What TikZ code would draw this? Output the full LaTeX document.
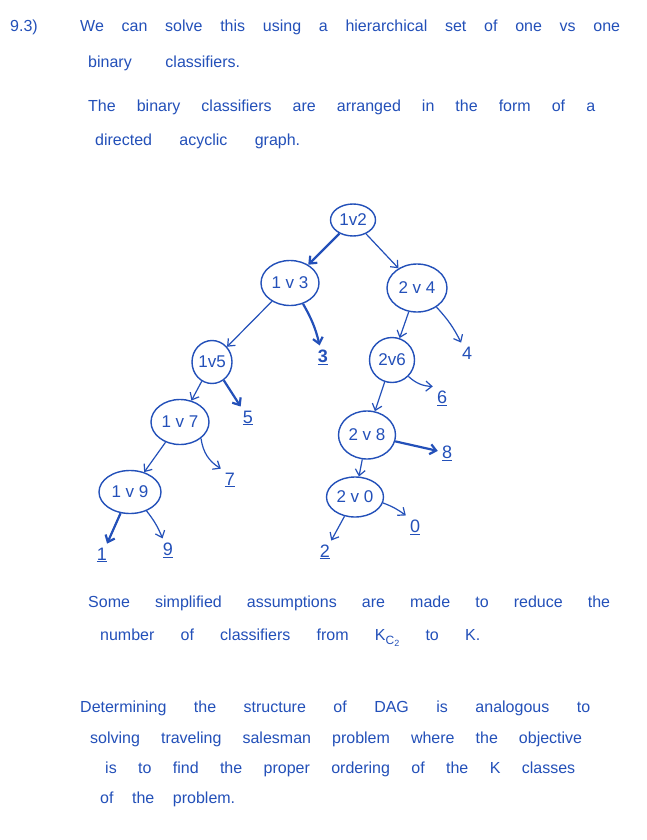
\documentclass[tikz,border=0pt]{standalone}
\usepackage{fontspec}
\setmainfont{Liberation Sans}
\usetikzlibrary{shapes.geometric,arrows.meta}
\definecolor{ink}{RGB}{35,80,185}
\tikzset{
  txt/.style={anchor=base west,inner sep=0pt,text=ink,font=\fontsize{16}{18}\selectfont},
  clf/.style={ellipse,draw=ink,line width=1.4pt,inner sep=0pt,text=ink,font=\fontsize{17}{19}\selectfont},
  leaf/.style={inner sep=4pt,text=ink,font=\fontsize{18}{20}\selectfont},
  edge/.style={draw=ink,line width=1.2pt,-{Straight Barb[length=6pt,width=10pt]}},
  thick edge/.style={edge,line width=2.2pt}
}
\begin{document}
\begin{tikzpicture}[x=1pt,y=-1pt]
\useasboundingbox[fill=white] (0,0) rectangle (646,840);
% header text
\node[txt] (q) at (10,32) {9.3)};
\node[txt] (l1) at (80,32) {\makebox[540pt][s]{We can solve this using a hierarchical set of one vs one}};
\node[txt] (l2) at (88,68) {\makebox[152pt][s]{binary classifiers.}};
\node[txt] (l3) at (88,112) {\makebox[507pt][s]{The binary classifiers are arranged in the form of a}};
\node[txt] (l4) at (95,146) {\makebox[205pt][s]{directed acyclic graph.}};
% classifier nodes
\node[clf,minimum width=45pt,minimum height=32pt] (n12) at (353,220) {1v2};
\node[clf,minimum width=58pt,minimum height=45pt] (n13) at (290,283) {1 v 3};
\node[clf,minimum width=60pt,minimum height=48pt] (n24) at (417,288) {2 v 4};
\node[clf,minimum width=40pt,minimum height=43pt] (n15) at (212,362) {1v5};
\node[clf,minimum width=45pt,minimum height=45pt] (n26) at (392,360) {2v6};
\node[clf,minimum width=58pt,minimum height=45pt] (n17) at (180,422) {1 v 7};
\node[clf,minimum width=57pt,minimum height=48pt] (n28) at (367,435) {2 v 8};
\node[clf,minimum width=62pt,minimum height=43pt] (n19) at (130,492) {1 v 9};
\node[clf,minimum width=57pt,minimum height=40pt] (n20) at (355,497) {2 v 0};
% leaves
\node[leaf] (c3) at (323,357) {\underline{\textbf{3}}};
\node[leaf] (c4) at (467,353) {4};
\node[leaf] (c5) at (248,418) {\underline{5}};
\node[leaf] (c6) at (442,398) {\underline{6}};
\node[leaf] (c8) at (447,453) {\underline{8}};
\node[leaf] (c7) at (230,480) {\underline{7}};
\node[leaf] (c0) at (415,527) {\underline{0}};
\node[leaf] (c1) at (102,555) {\underline{1}};
\node[leaf] (c9) at (168,550) {\underline{9}};
\node[leaf] (c2) at (325,552) {\underline{2}};
% edges
\draw[thick edge] (n12) -- (n13);
\draw[edge] (n12) -- (n24);
\draw[edge] (n13) -- (n15);
\draw[thick edge] (n13) to[bend left=8] (c3);
\draw[edge] (n24) -- (n26);
\draw[edge] (n24) to[bend left=8] (c4);
\draw[edge] (n15) -- (n17);
\draw[thick edge] (n15) -- (c5);
\draw[edge] (n26) -- (n28);
\draw[edge] (n26.south east) to[bend right=20] (c6.north west);
\draw[edge] (n17) -- (n19);
\draw[edge] (n17.south east) to[bend right=25] (c7.north west);
\draw[edge] (n28) -- (n20);
\draw[thick edge] (n28) -- (c8);
\draw[thick edge] (n19) -- (c1);
\draw[edge] (n19) to[bend left=8] (c9);
\draw[edge] (n20) -- (c2);
\draw[edge] (n20) to[bend left=8] (c0.north west);
% footer text
\node[txt] (b1) at (88,607) {\makebox[522pt][s]{Some simplified assumptions are made to reduce the}};
\node[txt] (b2) at (100,640) {\makebox[380pt][s]{number of classifiers from K{\fontsize{12}{13}\selectfont\raisebox{-4pt}{C\raisebox{-2pt}{\fontsize{9}{10}\selectfont 2}}} to K.}};
\node[txt] (b3) at (80,712) {\makebox[510pt][s]{Determining the structure of DAG is analogous to}};
\node[txt] (b4) at (90,743) {\makebox[492pt][s]{solving traveling salesman problem where the objective}};
\node[txt] (b5) at (105,773) {\makebox[470pt][s]{is to find the proper ordering of the K classes}};
\node[txt] (b6) at (100,803) {\makebox[135pt][s]{of the problem.}};
\end{tikzpicture}
\end{document}
